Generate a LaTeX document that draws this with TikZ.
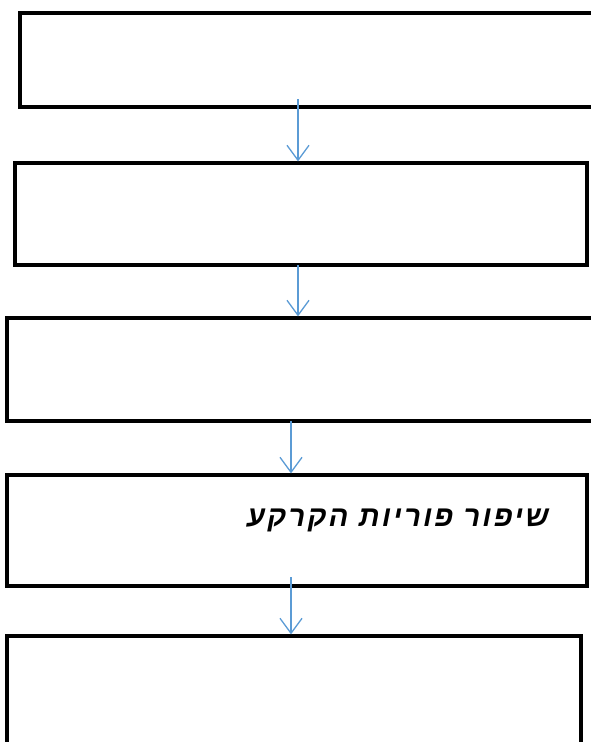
\documentclass[tikz,border=0pt]{standalone}
\usepackage{fontspec}
\newfontfamily\hebfont[Script=Hebrew,LetterSpace=8]{Liberation Sans}
\TeXXeTstate=1
\usetikzlibrary{arrows.meta}

\tikzset{
	box/.style={draw=black,line width=3.2pt,fill=none,inner sep=0pt},
	flow/.style={draw={rgb,255:red,91;green,155;blue,213},line width=1.6pt,-{Straight Barb[length=15pt,width=22pt,line width=1.3pt]}},
	soiltext/.style={font=\hebfont\bfseries\itshape\fontsize{29}{34}\selectfont,inner sep=0pt}
}

\begin{document}
\begin{tikzpicture}[x=1pt,y=-1pt]
		\useasboundingbox (0,0) rectangle (591,742);
		\clip (0,0) rectangle (591,742);
		% stacked boxes
		\node[box,minimum width=600pt,minimum height=94pt] (b1) at (320,60) {};
		\node[box,minimum width=572pt,minimum height=102pt] (b2) at (301,214) {};
		\node[box,minimum width=613pt,minimum height=103pt] (b3) at (313.5,369.5) {};
		\node[box,minimum width=580pt,minimum height=111pt] (b4) at (297,530.5) {};
		\node[box,minimum width=574pt,minimum height=144pt] (b5) at (294,708) {};
		\node[soiltext,anchor=east] (t4) at (549,520) {\beginR שיפור פוריות הקרקע\endR};
		
		% arrows between boxes
		\coordinate (s1) at (298,99);
		\coordinate (s2) at (298,265);
		\coordinate (s3) at (291,421);
		\coordinate (s4) at (291,577);
		\draw[flow] (s1) -- (b2.north -| s1);
		\draw[flow] (s2) -- (b3.north -| s2);
		\draw[flow] (s3) -- (b4.north -| s3);
		\draw[flow] (s4) -- (b5.north -| s4);
		\end{tikzpicture}
\end{document}
